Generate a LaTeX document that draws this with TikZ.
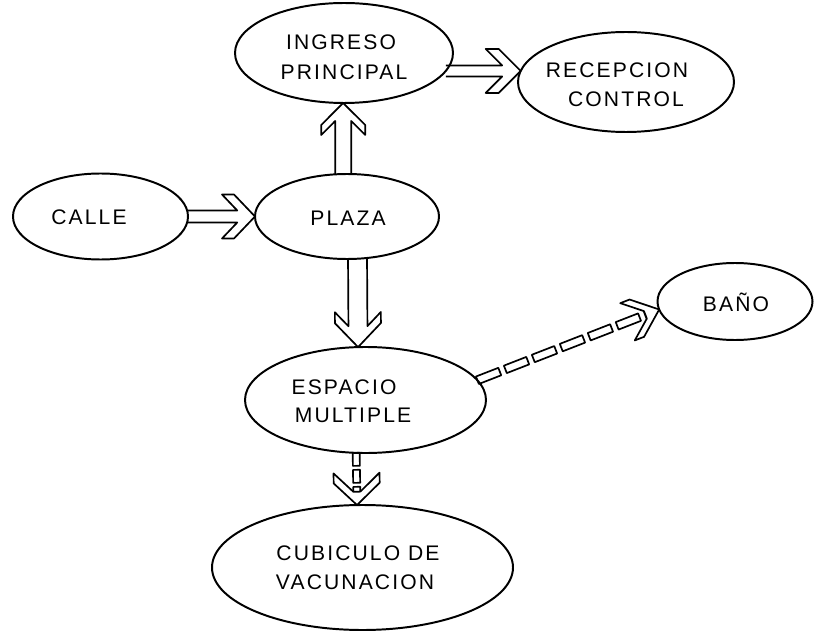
\documentclass[tikz,border=0pt]{standalone}
\usepackage{fontspec}
\newfontfamily\handfont[LetterSpace=10]{Liberation Sans}
\usetikzlibrary{shapes.geometric,calc}

\tikzset{
  elli/.style 2 args={ellipse, draw, line width=1.4pt, minimum width=#1*0.025cm, minimum height=#2*0.025cm, inner sep=0pt, outer sep=0pt},
  lbl/.style={inner sep=0pt, font=\handfont\fontsize{15}{17}\selectfont},
  arrowline/.style={draw, line width=1.2pt, line join=round},
}

% angle and length (in picture units) between two named points
\newcommand\FAsetup[2]{%
  \path let \p1=(#1), \p2=(#2) in \pgfextra{%
    \pgfmathsetmacro\FAtmpA{atan2(\y2-\y1,\x2-\x1)}%
    \pgfmathsetmacro\FAtmpL{veclen(\x2-\x1,\y2-\y1)/0.711317}%
    \xdef\FAang{\FAtmpA}\xdef\FAlen{\FAtmpL}};}

% hollow fat arrow: from, to, shaft half width, wing half width, head length, wing cap
\newcommand\fatarrow[6]{%
  \FAsetup{#1}{#2}%
  \begin{scope}[shift={(#2)},rotate=\FAang]
    \pgfmathsetmacro\FAxj{-#6-#5*#3/#4}
    \draw[arrowline] (-\FAlen,#3) -- (\FAxj,#3) -- ({-#5-#6},#4) -- (-#5,#4) -- (0,0)
      -- (-#5,-#4) -- ({-#5-#6},-#4) -- (\FAxj,-#3) -- (-\FAlen,-#3);
  \end{scope}}

% hollow fat arrow with a dashed (boxed) shaft
\newcommand\fatarrowdashed[8]{%
  \FAsetup{#1}{#2}%
  \begin{scope}[shift={(#2)},rotate=\FAang]
    \pgfmathsetmacro\FAxj{-#6-#5*#3/#4}
    \draw[arrowline] (\FAxj,#3) -- ({-#5-#6},#4) -- (-#5,#4) -- (0,0)
      -- (-#5,-#4) -- ({-#5-#6},-#4) -- (\FAxj,-#3);
    \foreach \i in {0,...,30}{%
      \pgfmathsetmacro\FAda{-\FAlen+\i*(#7+#8)}%
      \pgfmathsetmacro\FAdb{min(\FAda+#7,\FAxj)}%
      \ifdim\FAda pt<\FAxj pt
        \draw[arrowline] (\FAda,-#3) rectangle (\FAdb,#3);
      \fi
    }
  \end{scope}}

\begin{document}
\begin{tikzpicture}[x=0.025cm,y=0.025cm]
\useasboundingbox (0,0) rectangle (814,633);

% ellipses
\node[elli={218}{100}] (ingreso)   at (344,580)   {};
\node[elli={216}{100}] (recepcion) at (626,551)   {};
\node[elli={175}{86}]  (calle)     at (100.5,416.5) {};
\node[elli={184}{85}]  (plaza)     at (347,416.5) {};
\node[elli={155}{77}]  (bano)      at (735,331.5) {};
\node[elli={241}{106}] (espacio)   at (365.5,233) {};
\node[elli={301}{125}] (cubiculo)  at (362.5,65.5) {};

% labels
\node[lbl] (t-ingreso)    at (341,591) {INGRESO};
\node[lbl] (t-principal)  at (344,561) {PRINCIPAL};
\node[lbl] (t-recepcion)  at (617,563) {RECEPCION};
\node[lbl] (t-control)    at (626,534) {CONTROL};
\node[lbl] (t-calle)      at (89,416)  {CALLE};
\node[lbl] (t-plaza)      at (348,415) {PLAZA};
\node[lbl] (t-bano)       at (736,331) {BAÑO};
\node[lbl] (t-espacio)    at (344,246) {ESPACIO};
\node[lbl] (t-multiple)   at (353,218) {MULTIPLE};
\node[lbl] (t-cubiculo)   at (358,80)  {CUBICULO DE};
\node[lbl] (t-vacunacion) at (355,51)  {VACUNACION};

% connectors
\fatarrow{ingreso.-10.7}{recepcion.174.6}{5.5}{22}{22}{13}
\fatarrow{calle.east}{plaza.west}{6}{22}{21}{12}
\fatarrow{plaza.95.4}{ingreso.-91}{8}{22}{22}{10}
\fatarrow{plaza.-76}{espacio.98.6}{9.5}{23}{24}{11}
\fatarrowdashed{espacio.-100}{cubiculo.95.7}{3.5}{23}{22}{10}{13}{4}
\fatarrowdashed{espacio.10.1}{bano.186.2}{4}{20}{24}{10}{24}{6}

\end{tikzpicture}
\end{document}
